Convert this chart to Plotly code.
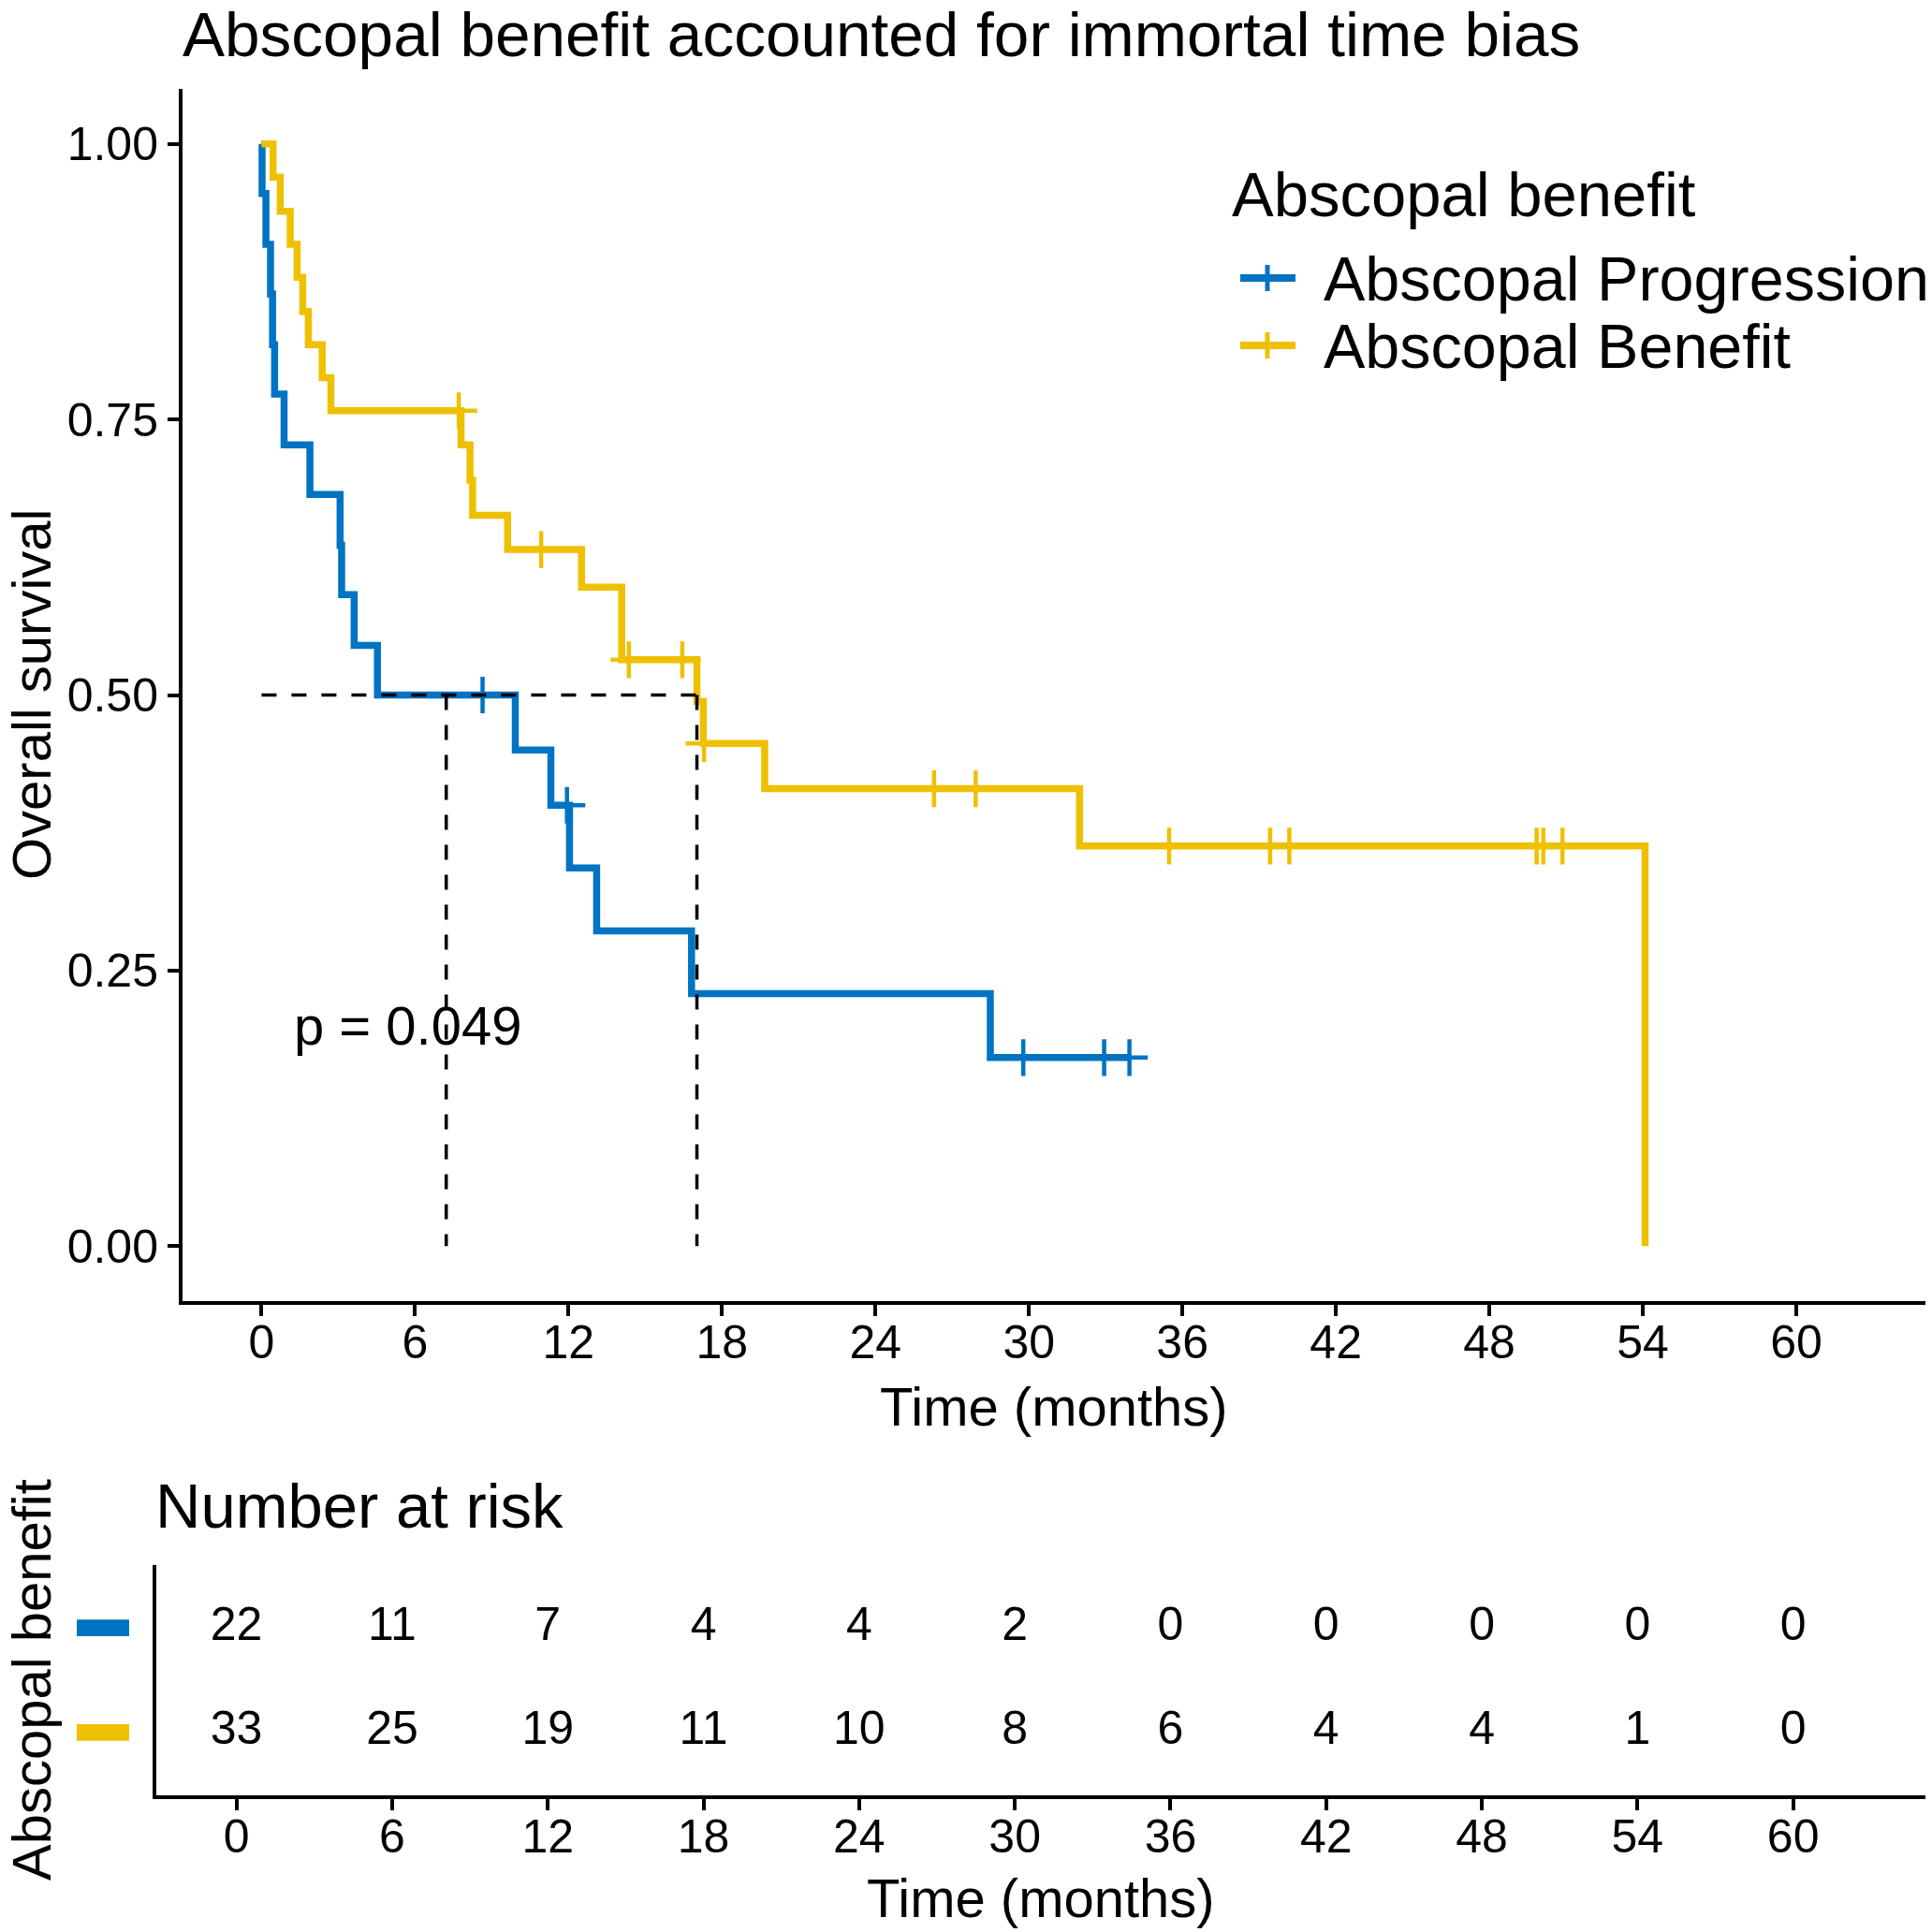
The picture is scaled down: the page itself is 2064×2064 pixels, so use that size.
import plotly.graph_objects as go

# ---------------- data ----------------
group_names = ["Abscopal Progression", "Abscopal Benefit"]
group_colors = ["#0073C2", "#EFC000"]

# Kaplan-Meier step curves (time in months, survival probability)
prog_time = [0, 0.02, 0.17, 0.35, 0.43, 0.51, 0.88, 1.89, 3.07, 3.13, 3.62, 4.53,
             9.92, 11.31, 12.04, 13.10, 16.81, 28.49, 33.93]
prog_surv = [1.0, 0.955, 0.909, 0.864, 0.818, 0.773, 0.727, 0.682, 0.636, 0.591, 0.545, 0.500,
             0.450, 0.400, 0.343, 0.286, 0.229, 0.171, 0.171]

ben_time = [0, 0.45, 0.73, 1.12, 1.39, 1.61, 1.83, 2.37, 2.71, 7.80, 8.15, 8.25,
            9.62, 12.51, 14.08, 17.02, 17.27, 19.67, 31.98, 54.09]
ben_surv = [1.0, 0.970, 0.939, 0.909, 0.879, 0.848, 0.818, 0.788, 0.758, 0.727, 0.695, 0.663,
            0.632, 0.598, 0.532, 0.494, 0.456, 0.415, 0.363, 0.0]

# censoring marks
prog_cens_time = [8.64, 11.94, 29.78, 32.94, 33.93]
prog_cens_surv = [0.500, 0.400, 0.171, 0.171, 0.171]
ben_cens_time = [7.71, 10.93, 14.36, 16.45, 17.30, 26.29, 27.92, 35.48, 39.43, 40.18, 49.85, 50.11, 50.86]
ben_cens_surv = [0.758, 0.632, 0.532, 0.532, 0.456, 0.415, 0.415, 0.363, 0.363, 0.363, 0.363, 0.363, 0.363]

# median survival times
median_times = [7.22, 17.02]
median_level = 0.5

p_label = "p = 0.049"
p_pos = (1.2, 0.2)

# number at risk table
risk_times = [0, 6, 12, 18, 24, 30, 36, 42, 48, 54, 60]
risk_prog = [22, 11, 7, 4, 4, 2, 0, 0, 0, 0, 0]
risk_ben = [33, 25, 19, 11, 10, 8, 6, 4, 4, 1, 0]

x_ticks = [0, 6, 12, 18, 24, 30, 36, 42, 48, 54, 60]
y_ticks = [0, 0.25, 0.5, 0.75, 1.0]
y_ticktext = ["0.00", "0.25", "0.50", "0.75", "1.00"]

title_text = "Abscopal benefit accounted for immortal time bias"
legend_title = "Abscopal benefit"

# ---------------- layout helpers ----------------
W = 2064
FONT = "Liberation Sans, Arial, sans-serif"


def fx(p):
    return p / W


def fy(p):
    return 1 - p / W


fig = go.Figure()

# curves
for t, s, c, name in [(prog_time, prog_surv, group_colors[0], group_names[0]),
                      (ben_time, ben_surv, group_colors[1], group_names[1])]:
    fig.add_trace(go.Scatter(x=t, y=s, mode="lines", line=dict(color=c, width=7.5, shape="hv"),
                             name=name, showlegend=False, xaxis="x", yaxis="y"))

# censor marks
for t, s, c, name in [(prog_cens_time, prog_cens_surv, group_colors[0], group_names[0]),
                      (ben_cens_time, ben_cens_surv, group_colors[1], group_names[1])]:
    fig.add_trace(go.Scatter(x=t, y=s, mode="markers",
                             marker=dict(symbol="cross-thin", size=28, color=c,
                                         line=dict(color=c, width=4.5)),
                             name=name + " (censored)", showlegend=False, xaxis="x", yaxis="y"))

# median dashed lines
dash_style = dict(color="black", width=3.5, dash="16px,16px")
fig.add_trace(go.Scatter(x=[0, max(median_times)], y=[median_level, median_level], mode="lines",
                         line=dash_style, showlegend=False, hoverinfo="skip"))
for m in median_times:
    fig.add_trace(go.Scatter(x=[m, m], y=[median_level, 0], mode="lines",
                             line=dash_style, showlegend=False, hoverinfo="skip"))

# risk table
for row, vals in [(2, risk_prog), (1, risk_ben)]:
    fig.add_trace(go.Scatter(x=risk_times, y=[row] * len(risk_times), mode="text",
                             text=[str(v) for v in vals], textposition="middle center",
                             textfont=dict(size=50, color="black", family=FONT),
                             showlegend=False, xaxis="x2", yaxis="y2"))

axis_common = dict(showgrid=False, zeroline=False, showline=True, linecolor="black", linewidth=4,
                   ticks="outside", ticklen=12, tickwidth=4, tickcolor="black",
                   tickfont=dict(size=50, color="black", family=FONT))

fig.update_layout(
    width=W, height=W,
    margin=dict(l=0, r=0, t=0, b=0),
    paper_bgcolor="white", plot_bgcolor="white",
    font=dict(family=FONT, color="black"),
    title=dict(text=title_text, x=fx(195), xanchor="left", y=fy(36), yanchor="middle",
               font=dict(size=67.5, color="black", family=FONT)),
    xaxis=dict(domain=[fx(195), fx(2057)], range=[-3.09, 65.05], tickvals=x_ticks,
               anchor="y", ticklabelstandoff=-15, **axis_common),
    yaxis=dict(domain=[fy(1390), fy(95)], range=[-0.05, 1.05], tickvals=y_ticks,
               ticktext=y_ticktext, anchor="x", **axis_common),
    xaxis2=dict(domain=[fx(167), fx(2057)], range=[-3.09, 65.1], tickvals=x_ticks,
                anchor="y2", ticklabelstandoff=-15, **axis_common),
    yaxis2=dict(domain=[fy(1918), fy(1672)], range=[0.4, 2.6], anchor="x2",
                showgrid=False, zeroline=False, showline=True, linecolor="black", linewidth=4,
                ticks="", showticklabels=False),
)


def ann(text, x, y, size, xanchor="center", yanchor="middle", xref="paper", yref="paper", angle=0):
    return dict(text=text, x=x, y=y, xref=xref, yref=yref, xanchor=xanchor, yanchor=yanchor,
                showarrow=False, textangle=angle, font=dict(size=size, color="black", family=FONT))


annotations = [
    ann("Time (months)", fx(1126), fy(1502), 58),
    ann("Overall survival", fx(33), fy(742), 58, angle=-90),
    ann(p_label, p_pos[0], p_pos[1], 58, xanchor="left", xref="x", yref="y"),
    ann("Number at risk", fx(164), fy(1608), 67, xanchor="left"),
    ann("Time (months)", fx(1112), fy(2027), 58),
    ann(legend_title, fx(1314), fy(208), 67, xanchor="left"),
    ann(legend_title, fx(33), fy(1795), 58, angle=-90),
]

shapes = []
legend_rows = [297, 369]
for name, color, yrow in zip(group_names, group_colors, legend_rows):
    annotations.append(ann(name, fx(1412), fy(yrow + 1), 66.5, xanchor="left"))
    shapes.append(dict(type="line", xref="paper", yref="paper", x0=fx(1325), x1=fx(1384),
                       y0=fy(yrow), y1=fy(yrow), line=dict(color=color, width=8)))
    shapes.append(dict(type="line", xref="paper", yref="paper", x0=fx(1354), x1=fx(1354),
                       y0=fy(yrow - 14), y1=fy(yrow + 14), line=dict(color=color, width=5)))

# colored keys for risk table rows
for color, row in zip(group_colors, [2, 1]):
    shapes.append(dict(type="rect", xref="paper", yref="y2", x0=fx(82), x1=fx(138),
                       y0=row - 0.08, y1=row + 0.08, fillcolor=color, line=dict(width=0)))

fig.update_layout(annotations=annotations, shapes=shapes)

fig.write_html("out.html")
